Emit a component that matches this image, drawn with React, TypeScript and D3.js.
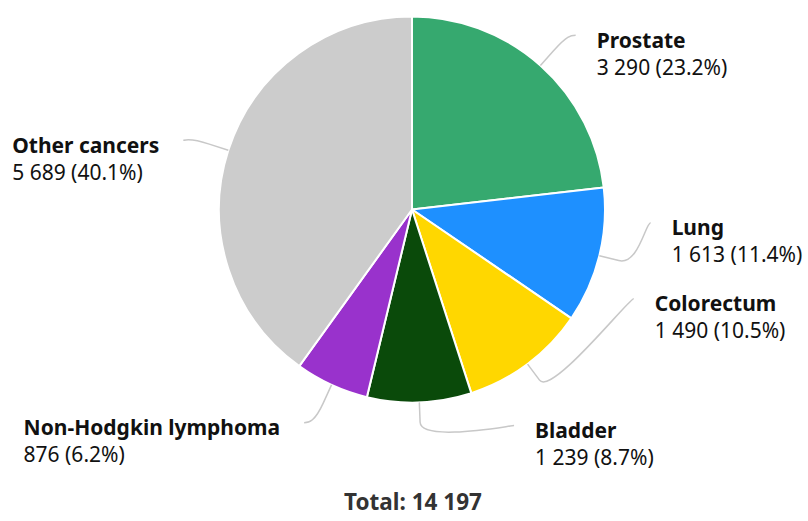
import { useRef, useEffect } from 'react'
import * as d3 from 'd3'

const categories = ['Prostate', 'Lung', 'Colorectum', 'Bladder', 'Non-Hodgkin lymphoma', 'Other cancers']
const cases = [3290, 1613, 1490, 1239, 876, 5689]
const colors = ['#36a96f', '#1e90ff', '#ffd700', '#0a4a0a', '#9932cc', '#cccccc']

// label angle nudges (degrees) so the lower right labels don't crowd
const labelNudge = [1.5, -10.7, -31.3, -23.1, 2.2, -1]

const locale = d3.formatLocale({ decimal: '.', thousands: ' ', grouping: [3], currency: ['', ''] })
const fmtNum = locale.format(',d')
const fmtPct = locale.format('.1f')

const FONT = '"Noto Sans", "Open Sans", sans-serif'

const App = () => {
  const ref = useRef<SVGSVGElement>(null)

  useEffect(() => {
    const totalWidth = 808,
      totalHeight = 521,
      cx = 412,
      cy = 209.5,
      radius = 193,
      labelRadius = 239,
      breakDist = 20

    const svg = d3.select(ref.current)
    svg.attr('width', totalWidth).attr('height', totalHeight)
    svg.selectAll('*').remove()

    const total = d3.sum(cases)
    const data = categories.map((name, i) => ({ name, value: cases[i], color: colors[i], nudge: labelNudge[i] }))

    const pie = d3.pie<any>().sort(null).value(d => d.value)
    const arcs = pie(data)
    const arc = d3.arc<any>().innerRadius(0).outerRadius(radius)

    const g = svg.append('g').attr('transform', `translate(${cx}, ${cy})`)

    // SLICES
    g.selectAll('path.slice')
      .data(arcs)
      .enter()
      .append('path')
        .attr('class', 'slice')
        .attr('d', arc)
        .attr('fill', d => d.data.color)
        .attr('stroke', '#fff')
        .attr('stroke-width', 2)
        .attr('stroke-linejoin', 'round')

    // CONNECTORS + LABELS
    const polar = (ang, r) => [r * Math.sin(ang), -r * Math.cos(ang)]

    arcs.forEach(a => {
      const mid = (a.startAngle + a.endAngle) / 2
      const labelAng = mid + a.data.nudge * Math.PI / 180
      const [tx, ty] = polar(mid, radius)
      const [bx, by] = polar(mid, radius + breakDist)
      const [lx, ly] = polar(labelAng, labelRadius)
      const left = lx < 0

      const path = d3.path()
      path.moveTo(lx, ly)
      path.bezierCurveTo(lx + (left ? 5 : -5), ly, 2 * bx - tx, 2 * by - ty, bx, by)
      path.lineTo(tx, ty)

      g.append('path')
        .attr('d', path.toString())
        .attr('fill', 'none')
        .attr('stroke', '#c8c8c8')
        .attr('stroke-width', 1.5)

      const text = g.append('text')
        .attr('y', ly + 12.5)
        .style('font-family', FONT)
        .style('font-size', '21px')
        .attr('fill', '#111')

      const t1 = text.append('tspan')
        .attr('font-weight', 'bold')
        .text(a.data.name)
      const t2 = text.append('tspan')
        .attr('dy', 27)
        .text(`${fmtNum(a.data.value)} (${fmtPct(a.data.value / total * 100)}%)`)

      // left-side labels are left aligned blocks ending near the connector
      let x0 = lx + 21
      if (left) {
        const w = Math.max(t1.node().getComputedTextLength(), t2.node().getComputedTextLength())
        x0 = lx - 24 - w
      }
      t1.attr('x', x0)
      t2.attr('x', x0)
    })

    // TOTAL
    svg.append('text')
      .attr('x', cx + 1)
      .attr('y', 510)
      .attr('text-anchor', 'middle')
      .style('font-family', FONT)
      .style('font-size', '22.5px')
      .attr('font-weight', 'bold')
      .attr('fill', '#333')
      .text(`Total: ${fmtNum(total)}`)
  }, [])

  return (
    <svg ref={ ref } style={ { position: 'absolute', left: 0, top: 0, display: 'block', background: '#fff' } }></svg>
  )
}

export default App
